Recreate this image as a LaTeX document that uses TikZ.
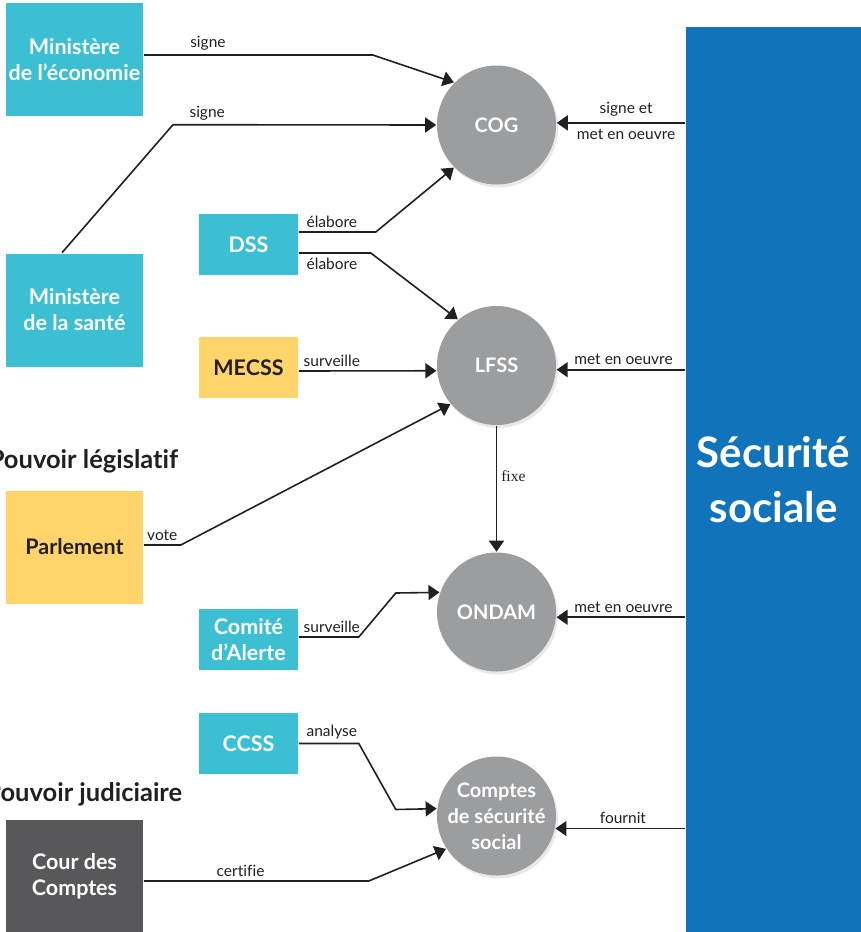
\documentclass[tikz,border=0pt]{standalone}
\usepackage{fontspec}
\setmainfont{Lato}[Ligatures=NoCommon]
\newfontfamily\fixefont{Liberation Serif}
\usepackage{tikz}
\usetikzlibrary{positioning}
\usetikzlibrary{arrows.meta}
\usetikzlibrary{shadows}
\definecolor{cyanbox}{HTML}{3CBFD3}
\definecolor{yellowbox}{HTML}{FED46B}
\definecolor{darkbox}{HTML}{58585A}
\definecolor{greycirc}{HTML}{9C9D9F}
\definecolor{secublue}{HTML}{1173BA}
\definecolor{linecol}{HTML}{231F20}

\begin{document}
\begin{tikzpicture}[
            x = 1pt, y = -1pt, % one unit per pixel, y going down
            > = {Triangle[length=11pt, width=15pt]}, % arrow head style
            line width = 1.6pt,
            color = linecol
        ]

        \tikzstyle{box}=[
            rectangle,
            inner sep = 0pt,
            align = center,
            text = white,
            font = \fontsize{21.5}{26}\selectfont\bfseries
        ]
        \tikzstyle{bigbox}=[box, minimum width = 137pt, minimum height = 113pt]
        \tikzstyle{smallbox}=[box, minimum width = 99pt, minimum height = 61pt]
        \tikzstyle{topic}=[
            circle,
            minimum size = 119pt,
            inner sep = 0pt,
            fill = greycirc,
            align = center,
            text = white,
            font = \fontsize{20}{26}\selectfont\bfseries,
            drop shadow = {shadow xshift=2pt, shadow yshift=-3pt, opacity=0.18}
        ]
        \tikzstyle{lbl}=[inner sep = 4pt, text = linecol, font = \fontsize{15.5}{18}\selectfont]
        \tikzstyle{title}=[inner sep = 0pt, text = linecol, font = \fontsize{25.5}{28}\selectfont\bfseries]

        \useasboundingbox (0,0) rectangle (861,932);

        % securite sociale
        \node[box, fill = secublue, minimum width = 175pt, minimum height = 905pt,
              font = \fontsize{42}{55}\selectfont\bfseries] (secu) at (773.5,479.5) {Sécurité\\sociale};

        % central topics
        \node[topic] (cog) at (496.5,125) {COG};
        \node[topic] (lfss) at (496.5,365.5) {LFSS};
        \node[topic] (ondam) at (496.5,612) {ONDAM};
        \node[topic] (comptes) at (496.5,816) {Comptes\\de sécurité\\social};

        % executive
        \node[bigbox, fill = cyanbox] (eco) at (74.5,59.5) {Ministère\\de l’économie};
        \node[bigbox, fill = cyanbox] (sante) at (74.5,310) {Ministère\\de la santé};
        \node[smallbox, fill = cyanbox] (dss) at (248.5,244.5) {DSS};

        % legislative
        \node[title, anchor = east] (legis) at (179,461) {Pouvoir législatif};
        \node[smallbox, fill = yellowbox, text = linecol] (mecss) at (248.5,367.5) {MECSS};
        \node[bigbox, fill = yellowbox, text = linecol] (parl) at (74.5,547) {Parlement};
        \node[smallbox, fill = cyanbox] (comite) at (248.5,639.5) {Comité\\d’Alerte};
        \node[smallbox, fill = cyanbox] (ccss) at (248.5,743.5) {CCSS};

        % judiciary
        \node[title, anchor = east] (judic) at (183,794) {Pouvoir judiciaire};
        \node[bigbox, fill = darkbox] (cour) at (74.5,876.5) {Cour des\\Comptes};

        % links to COG
        \draw[->] ([yshift=4.5pt]eco.east) -- node[lbl, above, pos=0.28] {signe} ++(229,0) -- (cog.135);
        \draw[->] ([xshift=-12.5pt]sante.north) -- ++(111,-128) -- node[lbl, above, pos=0.13] {signe} (cog.west);
        \draw[->] ([yshift=12.5pt]dss.east) -- node[lbl, above, pos=0.43] {élabore} ++(77,0) -- (cog.225);

        % links to LFSS
        \draw[->] ([yshift=-8.5pt]dss.east) -- node[lbl, below, pos=0.46] {élabore} ++(72,0) -- (lfss.130);
        \draw[->] ([yshift=-3.5pt]mecss.east) -- node[lbl, above, pos=0.24] {surveille} (lfss.185);
        \draw[->] ([yshift=2pt]parl.east) -- node[lbl, above, pos=0.5] {vote} ++(37,0) -- (lfss.220);
        \draw[->] (lfss.south) -- node[lbl, right, pos=0.4, font=\fixefont\fontsize{15.5}{18}\selectfont] {fixe} (ondam.north);

        % links to ONDAM
        \draw[->] ([yshift=2.5pt]comite.east) -- node[lbl, above, pos=0.55] {surveille} ++(60,0) -- ++(37,-44) -- (ondam.161);

        % links to comptes
        \draw[->] (ccss.east) -- node[lbl, above, pos=0.55] {analyse} ++(60,0) -- ++(37,66) -- (comptes.173);
        \draw[->] ([yshift=-4.5pt]cour.east) -- node[lbl, above, pos=0.43] {certifie} ++(225,0) -- (comptes.213);

        % from securite sociale
        \draw[->] (secu.west |- cog.2) -- node[lbl, above, pos=0.46, inner sep=6pt] {signe et} node[lbl, below, pos=0.46, inner sep=5pt] {met en oeuvre} (cog.2);
        \draw[->] (secu.west |- lfss.356) -- node[lbl, above, pos=0.48] {met en oeuvre} (lfss.356);
        \draw[->] (secu.west |- ondam.355) -- node[lbl, above, pos=0.48] {met en oeuvre} (ondam.355);
        \draw[->] (secu.west |- comptes.348) -- node[lbl, above, pos=0.48] {fournit} (comptes.348);

  \end{tikzpicture}
\end{document}
